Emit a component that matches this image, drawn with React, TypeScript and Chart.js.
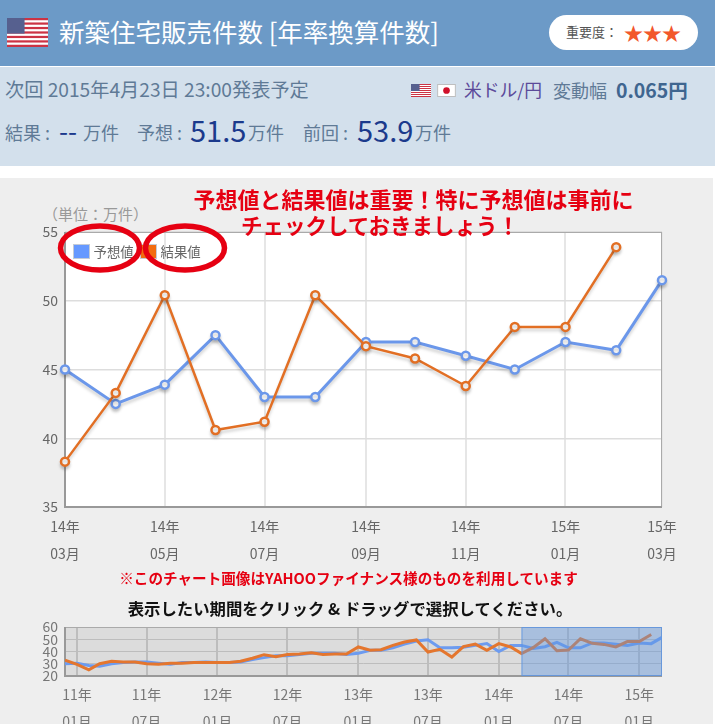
import React, { useEffect, useRef } from "react";
import { Chart, registerables } from "chart.js";

Chart.register(...registerables);

const FONT = "'Noto Sans CJK JP', 'Noto Sans', sans-serif";

const mainMonths = ["14/03", "14/04", "14/05", "14/06", "14/07", "14/08", "14/09", "14/10", "14/11", "14/12", "15/01", "15/02", "15/03"];
const mainTickLabels: Record<string, string[]> = {
  "14/03": ["14年", "03月"],
  "14/05": ["14年", "05月"],
  "14/07": ["14年", "07月"],
  "14/09": ["14年", "09月"],
  "14/11": ["14年", "11月"],
  "15/01": ["15年", "01月"],
  "15/03": ["15年", "03月"],
};
const forecast = [45, 42.5, 43.9, 47.5, 43, 43, 47, 47, 46, 45, 47, 46.4, 51.5];
const result = [38.3, 43.3, 50.4, 40.6, 41.2, 50.4, 46.7, 45.8, 43.8, 48.1, 48.1, 53.9, null];
const seriesNames = ["予想値", "結果値"];
const legendSwatches = ["#6699ff", "#f26c10"];

const overviewMonths = [
  "10/12",
  "11/01", "11/02", "11/03", "11/04", "11/05", "11/06", "11/07", "11/08", "11/09", "11/10", "11/11", "11/12",
  "12/01", "12/02", "12/03", "12/04", "12/05", "12/06", "12/07", "12/08", "12/09", "12/10", "12/11", "12/12",
  "13/01", "13/02", "13/03", "13/04", "13/05", "13/06", "13/07", "13/08", "13/09", "13/10", "13/11", "13/12",
  "14/01", "14/02", "14/03", "14/04", "14/05", "14/06", "14/07", "14/08", "14/09", "14/10", "14/11", "14/12",
  "15/01", "15/02", "15/03",
];
const overviewTickLabels: Record<string, string[]> = {
  "11/01": ["11年", "01月"],
  "11/07": ["11年", "07月"],
  "12/01": ["12年", "01月"],
  "12/07": ["12年", "07月"],
  "13/01": ["13年", "01月"],
  "13/07": ["13年", "07月"],
  "14/01": ["14年", "01月"],
  "14/07": ["14年", "07月"],
  "15/01": ["15年", "01月"],
};
const overviewForecast = [
  30, 30.5, 28.5, 28, 30, 31, 31.5, 31.5, 30.5, 29.5, 31, 31, 31.5,
  31, 31, 31.5, 33.5, 35, 36.5, 36.5, 37.5, 38.5, 38.5, 38.5, 37.5,
  38.5, 41, 41, 43, 46, 48.5, 49.5, 43, 43, 43.5, 45, 46.5, 40, 45,
  45, 42.5, 43.9, 47.5, 43, 43, 47, 47, 46, 45, 47, 46.4, 51.5,
];
const overviewResult = [
  33, 29.5, 25, 30, 32, 31.5, 31.5, 30, 29.5, 30.5, 30.5, 31, 31,
  31, 31, 32, 34.5, 37.4, 35.8, 37.5, 38, 39, 37.5, 38, 38,
  43.7, 41, 41.5, 45, 47.7, 49.4, 39.6, 41.8, 35.5, 44, 46, 41, 46.4, 43.7,
  38.3, 43.3, 50.4, 40.6, 41.2, 50.4, 46.7, 45.8, 43.8, 48.1, 48.1, 53.9, null,
];
const selectedRange = ["14/03", "15/03"];

const BLUE = "#6b97ea";
const ORANGE = "#e26f24";

// The axes are time based: months are placed by their real length in days.
function dayOf(month: string) {
  const [yy, mm] = month.split("/").map(Number);
  return Date.UTC(2000 + yy, mm - 1, 1) / 86400000;
}
function points(months: string[], values: (number | null)[]) {
  return months.map((m, i) => ({ x: dayOf(m), y: values[i] }));
}
function labelLookup(table: Record<string, string[]>) {
  const out: Record<number, string[]> = {};
  Object.keys(table).forEach((m) => {
    out[dayOf(m)] = table[m];
  });
  return out;
}

const lineShadow = {
  id: "lineShadow",
  beforeDatasetDraw(chart: any) {
    const c = chart.ctx;
    c.save();
    c.shadowColor = "rgba(60,60,60,0.22)";
    c.shadowBlur = 3;
    c.shadowOffsetY = 3;
  },
  afterDatasetDraw(chart: any) {
    chart.ctx.restore();
  },
};

const mainBack = {
  id: "mainBack",
  beforeDraw(chart: any) {
    const { ctx: c, chartArea: a } = chart;
    c.save();
    c.fillStyle = "#ffffff";
    c.fillRect(a.left, a.top, a.width, a.height);
    c.restore();
  },
};

const frame = {
  id: "frame",
  beforeDatasetsDraw(chart: any) {
    const { ctx: c, chartArea: a } = chart;
    c.save();
    c.strokeStyle = "#aaaaaa";
    c.lineWidth = 1;
    c.strokeRect(a.left + 0.5, a.top + 0.5, a.width - 1, a.height - 1);
    c.strokeStyle = "#999999";
    c.lineWidth = 2;
    c.beginPath();
    c.moveTo(a.left, a.top);
    c.lineTo(a.left, a.bottom);
    c.lineTo(a.right, a.bottom);
    c.stroke();
    c.restore();
  },
};

const overviewBack = {
  id: "overviewBack",
  beforeDraw(chart: any) {
    const { ctx: c, chartArea: a } = chart;
    c.save();
    c.fillStyle = "#dcdcdc";
    c.fillRect(a.left, a.top, a.width, a.height);
    c.restore();
  },
  afterDraw(chart: any) {
    const { ctx: c, chartArea: a, scales } = chart;
    const x0 = scales.x.getPixelForValue(dayOf(selectedRange[0]));
    const x1 = scales.x.getPixelForValue(dayOf(selectedRange[1]));
    c.save();
    c.fillStyle = "rgba(95,150,225,0.42)";
    c.fillRect(x0, a.top, x1 - x0, a.height);
    c.strokeStyle = "rgba(95,150,225,0.8)";
    c.lineWidth = 1;
    c.strokeRect(x0 + 0.5, a.top + 0.5, x1 - x0 - 1, a.height - 1);
    c.restore();
  },
};

function fitY(width: number) {
  return (s: any) => {
    s.width = width;
    s.paddingTop = 0;
    s.paddingBottom = 0;
  };
}
function fitX(height: number) {
  return (s: any) => {
    s.height = height;
    s.paddingLeft = 0;
    s.paddingRight = 0;
  };
}

function T({ x, y, size, color, weight, children, center }: any) {
  return (
    <div
      style={{
        position: "absolute",
        left: x,
        top: y,
        transform: center ? "translate(-50%,-50%)" : "translateY(-50%)",
        fontSize: size,
        color,
        fontWeight: weight || 400,
        whiteSpace: "nowrap",
        lineHeight: 1,
        fontFamily: FONT,
      }}
    >
      {children}
    </div>
  );
}

const stripeRows = [0, 1, 2, 3, 4, 5, 6];
function UsFlag({ x, y, w, h }: any) {
  return (
    <svg style={{ position: "absolute", left: x, top: y }} width={w} height={h} viewBox="0 0 70 52" preserveAspectRatio="none">
      <rect width="70" height="52" fill="#ffffff" />
      {stripeRows.map((i) => (
        <rect key={i} y={i * 8} width="70" height="4" fill="#cc3344" />
      ))}
      <rect width="30" height="28" fill="#56608f" />
    </svg>
  );
}
function JpFlag({ x, y, w, h }: any) {
  return (
    <svg style={{ position: "absolute", left: x, top: y }} width={w} height={h} viewBox="0 0 20 14">
      <rect x="0.5" y="0.5" width="19" height="13" fill="#ffffff" stroke="#bbbbbb" />
      <circle cx="10" cy="7" r="3.6" fill="#d0102a" />
    </svg>
  );
}

function LegendItem({ x, name, color }: any) {
  return (
    <>
      <div style={{ position: "absolute", left: x, top: 244, width: 17, height: 15, boxSizing: "border-box", background: color, border: "1px solid #c4cbd6" }} />
      <T x={x + 20.5} y={252} size={13.4} color="#666666">{name}</T>
    </>
  );
}

export default function App() {
  const mainRef = useRef<HTMLCanvasElement>(null);
  const overRef = useRef<HTMLCanvasElement>(null);

  useEffect(() => {
    const tickFont = { family: FONT, size: 14 };
    const mainLabels = labelLookup(mainTickLabels);
    const overLabels = labelLookup(overviewTickLabels);
    const mainChart = new Chart(mainRef.current as any, {
      type: "line",
      plugins: [mainBack, frame, lineShadow],
      data: {
        datasets: [
          {
            label: seriesNames[0],
            data: points(mainMonths, forecast),
            order: 2,
            borderColor: BLUE,
            borderWidth: 3,
            pointRadius: 4,
            pointBorderWidth: 2.5,
            pointBackgroundColor: "#ffffff",
            pointBorderColor: BLUE,
            tension: 0,
          },
          {
            label: seriesNames[1],
            data: points(mainMonths, result),
            order: 1,
            borderColor: ORANGE,
            borderWidth: 2.5,
            pointRadius: 4,
            pointBorderWidth: 2.5,
            pointBackgroundColor: "#ffffff",
            pointBorderColor: ORANGE,
            tension: 0,
          },
        ],
      },
      options: {
        animation: false,
        responsive: false,
        clip: false,
        layout: { padding: { top: 42, right: 53, left: 0, bottom: 0 } },
        plugins: { tooltip: { enabled: false }, legend: { display: false } },
        scales: {
          x: {
            type: "linear",
            min: dayOf(mainMonths[0]),
            max: dayOf(mainMonths[mainMonths.length - 1]),
            afterBuildTicks: (s: any) => {
              s.ticks = Object.keys(mainTickLabels).map((m) => ({ value: dayOf(m) }));
            },
            afterFit: fitX(63),
            border: { display: false },
            grid: { color: "#e6e6e6", lineWidth: 2, drawTicks: false },
            ticks: {
              autoSkip: false,
              maxRotation: 0,
              padding: 6,
              color: "#666666",
              font: { ...tickFont, lineHeight: 27 / 14 },
              callback: (v: any) => mainLabels[v] ?? null,
            },
          },
          y: {
            min: 35,
            max: 55,
            afterFit: fitY(65),
            border: { display: false },
            grid: { color: "#dddddd", lineWidth: 1.5, drawTicks: false },
            ticks: { stepSize: 5, padding: 7, color: "#666666", font: tickFont },
          },
        },
      } as any,
    });

    const overChart = new Chart(overRef.current as any, {
      type: "line",
      plugins: [overviewBack, frame],
      data: {
        datasets: [
          { label: seriesNames[0], data: points(overviewMonths, overviewForecast), order: 2, borderColor: "#6c9bf0", borderWidth: 3, pointRadius: 0, tension: 0 },
          { label: seriesNames[1], data: points(overviewMonths, overviewResult), order: 1, borderColor: "#e4762e", borderWidth: 3, pointRadius: 0, tension: 0 },
        ],
      },
      options: {
        animation: false,
        responsive: false,
        layout: { padding: { top: 12, right: 53, left: 0, bottom: 0 } },
        plugins: { legend: { display: false }, tooltip: { enabled: false } },
        scales: {
          x: {
            type: "linear",
            min: dayOf(overviewMonths[0]),
            max: dayOf(overviewMonths[overviewMonths.length - 1]),
            afterBuildTicks: (s: any) => {
              s.ticks = Object.keys(overviewTickLabels).map((m) => ({ value: dayOf(m) }));
            },
            afterFit: fitX(48),
            border: { display: false },
            grid: { color: "#bdbdbd", lineWidth: 2, drawTicks: false },
            ticks: {
              autoSkip: false,
              maxRotation: 0,
              padding: 5,
              color: "#777777",
              font: { ...tickFont, lineHeight: 27 / 14 },
              callback: (v: any) => overLabels[v] ?? null,
            },
          },
          y: {
            min: 20,
            max: 60,
            afterFit: fitY(65),
            border: { display: false },
            grid: { color: "#bdbdbd", lineWidth: 1, drawTicks: false },
            ticks: { autoSkip: false, stepSize: 10, padding: 7, color: "#777777", font: { family: FONT, size: 14, lineHeight: 1 } },
          },
        },
      } as any,
    });

    return () => {
      mainChart.destroy();
      overChart.destroy();
    };
  }, []);

  return (
    <div style={{ position: "fixed", left: 0, top: 0, width: 715, height: 724, overflow: "hidden", background: "#ffffff" }}>
      <div style={{ position: "absolute", left: 0, top: 0, width: 715, height: 66, background: "#6c9ac7" }} />
      <div style={{ position: "absolute", left: 0, top: 67, width: 715, height: 99, background: "#d3e0ec" }} />
      <div style={{ position: "absolute", left: 0, top: 178, width: 713, height: 546, background: "#eeeeee" }} />

      <UsFlag x={7} y={18} w={41} h={29} />
      <T x={59} y={31} size={25.5} color="#ffffff">新築住宅販売件数 [年率換算件数]</T>
      <div style={{ position: "absolute", left: 549, top: 15, width: 149, height: 35, borderRadius: 18, background: "#ffffff" }} />
      <T x={566} y={31} size={13} color="#555555">重要度：</T>
      <T x={624} y={32} size={19} color="#f2572b">★★★</T>

      <T x={5} y={90} size={19.2} color="#5f7a96">次回 2015年4月23日 23:00発表予定</T>
      <UsFlag x={411} y={84} w={20} h={13} />
      <JpFlag x={437} y={84} w={19} h={13} />
      <T x={464} y={90} size={17.8} color="#5b4a9a">米ドル/円</T>
      <T x={553} y={90} size={18} color="#5f7a96">変動幅</T>
      <T x={616} y={90} size={19.5} weight={700} color="#3f6690">0.065円</T>

      <T x={5} y={132} size={18} color="#5f7a96">結果 :</T>
      <T x={59} y={130} size={26} color="#1b3a8c">--</T>
      <T x={83} y={132} size={18} color="#5f7a96">万件</T>
      <T x={137} y={132} size={18} color="#5f7a96">予想 :</T>
      <T x={190} y={129} size={29} color="#1b3a8c">51.5</T>
      <T x={248} y={132} size={18} color="#5f7a96">万件</T>
      <T x={303} y={132} size={18} color="#5f7a96">前回 :</T>
      <T x={357} y={129} size={29} color="#1b3a8c">53.9</T>
      <T x={415} y={132} size={18} color="#5f7a96">万件</T>

      <T x={43} y={213} size={15} color="#999999">（単位：万件）</T>

      <canvas ref={mainRef} width={715} height={380} style={{ position: "absolute", left: 0, top: 190 }} />
      <canvas ref={overRef} width={715} height={109} style={{ position: "absolute", left: 0, top: 615 }} />

      <LegendItem x={73} name={seriesNames[0]} color={legendSwatches[0]} />
      <LegendItem x={140} name={seriesNames[1]} color={legendSwatches[1]} />

      <svg style={{ position: "absolute", left: 0, top: 0 }} width={715} height={724}>
        <ellipse cx={100} cy={248} rx={39.5} ry={22} fill="none" stroke="#e60012" strokeWidth={5.5} />
        <ellipse cx={185} cy={248} rx={39.5} ry={22} fill="none" stroke="#e60012" strokeWidth={5.5} />
      </svg>

      <T x={413.5} y={198} size={22} weight={700} color="#e60012" center>予想値と結果値は重要！特に予想値は事前に</T>
      <T x={380} y={225} size={21.5} weight={700} color="#e60012" center>チェックしておきましょう！</T>
      <T x={348.5} y={578} size={14.6} weight={700} color="#e60012" center>※このチャート画像はYAHOOファイナンス様のものを利用しています</T>
      <T x={350} y={608} size={16.4} weight={700} color="#111111" center>表示したい期間をクリック &amp; ドラッグで選択してください。</T>
    </div>
  );
}
